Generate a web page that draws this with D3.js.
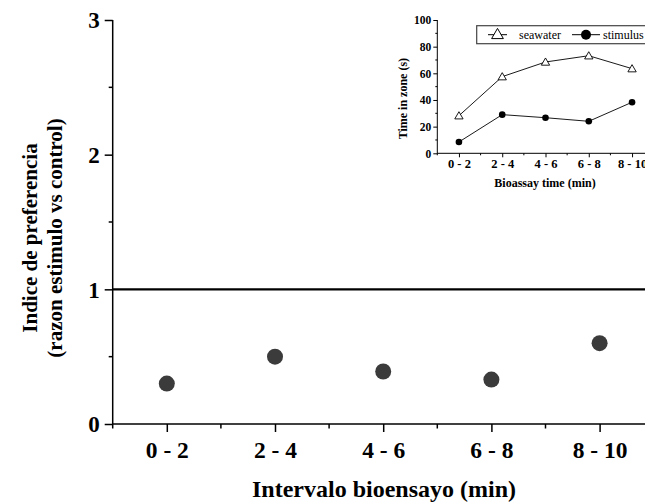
<!DOCTYPE html>
<html>
<head>
<meta charset="utf-8">
<script src="https://cdn.jsdelivr.net/npm/d3@7/dist/d3.min.js"></script>
<style>
  html, body { margin: 0; padding: 0; background: #fff; }
  svg { display: block; }
  text { font-family: "Liberation Serif", "Times New Roman", serif; font-weight: bold; fill: #000; }
</style>
</head>
<body>
<script>
// ---- Data ----
const categories = ["0 - 2", "2 - 4", "4 - 6", "6 - 8", "8 - 10"];
const preferenceIndex = [0.30, 0.50, 0.39, 0.33, 0.60];
const yTicksMain = [0, 1, 2, 3];
const yMinorMain = [0.5, 1.5, 2.5];
const referenceValue = 1;

const insetSeawater = [28.2, 57.5, 68.5, 73.2, 63.5];
const insetStimulus = [8.5, 29, 26.7, 24, 38.3];
const yTicksInset = [0, 20, 40, 60, 80, 100];
const yMinorInset = [10, 30, 50, 70, 90];
const seriesNames = ["seawater", "stimulus"];

const W = 645, H = 504;
const svg = d3.select("body").append("svg").attr("width", W).attr("height", H);

// ---- Main chart ----
const xL = 112.7, xR = 653.7, yB = 424, yT = 20;
const x = d3.scalePoint().domain(categories).range([xL, xR]).padding(0.5);
const y = d3.scaleLinear().domain([0, 3]).range([yB, yT]);
const step = x.step();

const gMain = svg.append("g");

// y axis major
const yAxis = d3.axisLeft(y).tickValues(yTicksMain).tickFormat(d3.format("d")).tickSize(8).tickSizeOuter(0).tickPadding(5);
const gy = gMain.append("g").attr("transform", `translate(${xL},0)`).call(yAxis);
gy.select(".domain").remove();
gy.selectAll(".tick line").attr("stroke", "#000").attr("stroke-width", 1.5);
gy.selectAll(".tick text").style("font-size", "23px").attr("dy", "0.34em");
// y minor
gMain.append("g").selectAll("line").data(yMinorMain).join("line")
  .attr("x1", xL - 4).attr("x2", xL).attr("y1", d => y(d)).attr("y2", d => y(d))
  .attr("stroke", "#000").attr("stroke-width", 1.5);
// y axis line (extends slightly below 0)
gMain.append("line").attr("x1", xL).attr("x2", xL).attr("y1", yT).attr("y2", yB + 4.5)
  .attr("stroke", "#000").attr("stroke-width", 1.5);

// x axis
const xAxis = d3.axisBottom(x).tickSize(8).tickSizeOuter(0).tickPadding(9.5);
const gx = gMain.append("g").attr("transform", `translate(0,${yB})`).call(xAxis);
gx.select(".domain").remove();
gx.selectAll(".tick line").attr("stroke", "#000").attr("stroke-width", 1.5);
gx.selectAll(".tick text").style("font-size", "23.5px");
gMain.append("line").attr("x1", xL).attr("x2", xR).attr("y1", yB).attr("y2", yB)
  .attr("stroke", "#000").attr("stroke-width", 1.5);
// x minor ticks at midpoints
const xMinor = categories.slice(0, -1).map(c => x(c) + step / 2);
gMain.append("g").selectAll("line").data(xMinor).join("line")
  .attr("x1", d => d).attr("x2", d => d).attr("y1", yB).attr("y2", yB + 4.5)
  .attr("stroke", "#000").attr("stroke-width", 1.5);

// reference line
gMain.append("line").attr("x1", xL).attr("x2", W).attr("y1", y(referenceValue)).attr("y2", y(referenceValue))
  .attr("stroke", "#000").attr("stroke-width", 2.2);

// points
gMain.append("g").selectAll("circle").data(preferenceIndex).join("circle")
  .attr("cx", (d, i) => x(categories[i])).attr("cy", d => y(d)).attr("r", 8)
  .attr("fill", "#3b3b3b");

// axis titles
gMain.append("text").attr("x", 384).attr("y", 497).attr("text-anchor", "middle")
  .style("font-size", "24px").text("Intervalo bioensayo (min)");
const yt = gMain.append("text").attr("transform", "translate(0,238) rotate(-90)").attr("text-anchor", "middle")
  .style("font-size", "21px");
yt.append("tspan").attr("x", 0).attr("y", 37).text("Indice de preferencia");
yt.append("tspan").attr("x", 0).attr("y", 62).text("(razon estimulo vs control)");

// ---- Inset ----
const ixL = 437.3, ixR = 653.7, iyB = 153.3, iyT = 20;
const ix = d3.scalePoint().domain(categories).range([ixL, ixR]).padding(0.5);
const iy = d3.scaleLinear().domain([0, 100]).range([iyB, iyT]);
const istep = ix.step();
const gIn = svg.append("g");

const iyAxis = d3.axisLeft(iy).tickValues(yTicksInset).tickSize(4).tickSizeOuter(0).tickPadding(2);
const giy = gIn.append("g").attr("transform", `translate(${ixL},0)`).call(iyAxis);
giy.select(".domain").remove();
giy.selectAll(".tick line").attr("stroke", "#000").attr("stroke-width", 1);
giy.selectAll(".tick text").style("font-size", "11.5px").attr("dy", "0.34em");
gIn.append("g").selectAll("line").data(yMinorInset).join("line")
  .attr("x1", ixL - 2).attr("x2", ixL).attr("y1", d => iy(d)).attr("y2", d => iy(d))
  .attr("stroke", "#000").attr("stroke-width", 1);
gIn.append("line").attr("x1", ixL).attr("x2", ixL).attr("y1", iyT).attr("y2", iyB + 2)
  .attr("stroke", "#000").attr("stroke-width", 1);

const ixAxis = d3.axisBottom(ix).tickSize(4).tickSizeOuter(0).tickPadding(2);
const gix = gIn.append("g").attr("transform", `translate(0,${iyB})`).call(ixAxis);
gix.select(".domain").remove();
gix.selectAll(".tick line").attr("stroke", "#000").attr("stroke-width", 1);
gix.selectAll(".tick text").style("font-size", "12.5px");
gIn.append("line").attr("x1", ixL).attr("x2", ixR).attr("y1", iyB).attr("y2", iyB)
  .attr("stroke", "#000").attr("stroke-width", 1);
const ixMinor = categories.slice(0, -1).map(c => ix(c) + istep / 2);
gIn.append("g").selectAll("line").data(ixMinor).join("line")
  .attr("x1", d => d).attr("x2", d => d).attr("y1", iyB).attr("y2", iyB + 2)
  .attr("stroke", "#000").attr("stroke-width", 1);

const line = d3.line().x((d, i) => ix(categories[i])).y(d => iy(d));
gIn.append("path").datum(insetSeawater).attr("d", line).attr("fill", "none").attr("stroke", "#000").attr("stroke-width", 0.9);
gIn.append("path").datum(insetStimulus).attr("d", line).attr("fill", "none").attr("stroke", "#000").attr("stroke-width", 0.9);

const tri = d3.symbol().type(d3.symbolTriangle).size(30);
gIn.append("g").selectAll("path").data(insetSeawater).join("path")
  .attr("d", tri).attr("transform", (d, i) => `translate(${ix(categories[i])},${iy(d) + 0.8})`)
  .attr("fill", "#fff").attr("stroke", "#000").attr("stroke-width", 0.9);
gIn.append("g").selectAll("circle").data(insetStimulus).join("circle")
  .attr("cx", (d, i) => ix(categories[i])).attr("cy", d => iy(d)).attr("r", 3.3).attr("fill", "#000");

gIn.append("text").attr("x", 545).attr("y", 187).attr("text-anchor", "middle")
  .style("font-size", "12px").text("Bioassay time (min)");
gIn.append("text").attr("transform", `translate(406.5,${(iyT + iyB) / 2 + 12}) rotate(-90)`).attr("text-anchor", "middle")
  .style("font-size", "12px").text("Time in zone (s)");

// legend
const lg = gIn.append("g");
lg.append("rect").attr("x", 476.7).attr("y", 25.7).attr("width", 200).attr("height", 18)
  .attr("fill", "#fff").attr("stroke", "#444").attr("stroke-width", 1.2);
const ly = 34.7;
lg.append("line").attr("x1", 488).attr("x2", 507).attr("y1", ly).attr("y2", ly).attr("stroke", "#000");
lg.append("path").attr("d", d3.symbol().type(d3.symbolTriangle).size(60))
  .attr("transform", `translate(497.5,${ly + 0.5})`).attr("fill", "#fff").attr("stroke", "#000");
lg.append("text").attr("x", 519).attr("y", ly + 4).style("font-weight", "normal").style("font-size", "12px").text(seriesNames[0]);
lg.append("line").attr("x1", 572).attr("x2", 600).attr("y1", ly).attr("y2", ly).attr("stroke", "#000");
lg.append("circle").attr("cx", 586).attr("cy", ly).attr("r", 5).attr("fill", "#000");
lg.append("text").attr("x", 603).attr("y", ly + 4).style("font-weight", "normal").style("font-size", "12px").text(seriesNames[1]);
</script>
</body>
</html>
